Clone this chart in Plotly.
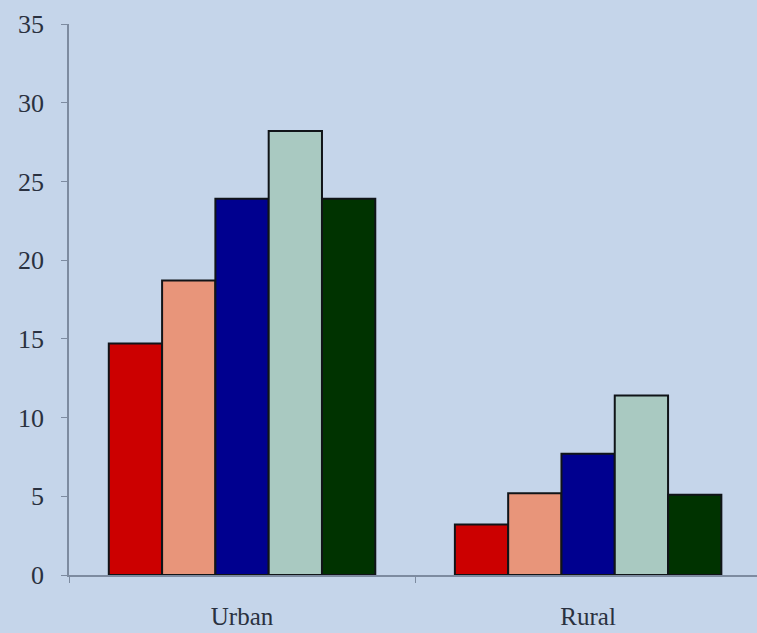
import plotly.graph_objects as go

categories = ["Urban", "Rural"]
series_names = ["S1", "S2", "S3", "S4", "S5"]
series_values = [
    [14.7, 3.2],
    [18.7, 5.2],
    [23.9, 7.7],
    [28.2, 11.4],
    [23.9, 5.1],
]
colors = ["#cc0000", "#e8957a", "#00008f", "#a9c9c1", "#003300"]
y_ticks = [0, 5, 10, 15, 20, 25, 30, 35]

fig = go.Figure()
for name, vals, col in zip(series_names, series_values, colors):
    fig.add_trace(go.Bar(
        x=categories, y=vals, name=name,
        marker=dict(color=col, line=dict(color="#101418", width=2)),
    ))

font_family = "Liberation Serif, Times New Roman, serif"
bg = "#c5d5ea"
fig.update_layout(
    width=757, height=633,
    barmode="group", bargap=0.23, bargroupgap=0,
    showlegend=False,
    paper_bgcolor=bg, plot_bgcolor=bg,
    margin=dict(l=69, r=0, t=24, b=58),
    font=dict(family=font_family, size=25, color="#2a3140"),
)
fig.update_xaxes(
    type="category", range=[-0.5, 1.488],
    showline=True, linecolor="#7d8ba0", linewidth=1.5,
    ticks="outside", tickson="boundaries", ticklen=6, tickcolor="#7d8ba0",
    ticklabelstandoff=18, showgrid=False, zeroline=False,
)
fig.update_yaxes(
    range=[0, 35], tickvals=y_ticks,
    showline=True, linecolor="#7d8ba0", linewidth=1.5,
    ticks="outside", ticklen=6, tickcolor="#7d8ba0",
    ticklabelstandoff=12, showgrid=False, zeroline=False,
    tickfont=dict(size=26),
)
fig.write_html(
    "out.html",
    config={"displayModeBar": False},
    post_script="document.body.style.margin='0';document.body.style.background='" + bg + "';document.body.style.overflow='hidden';",
)
